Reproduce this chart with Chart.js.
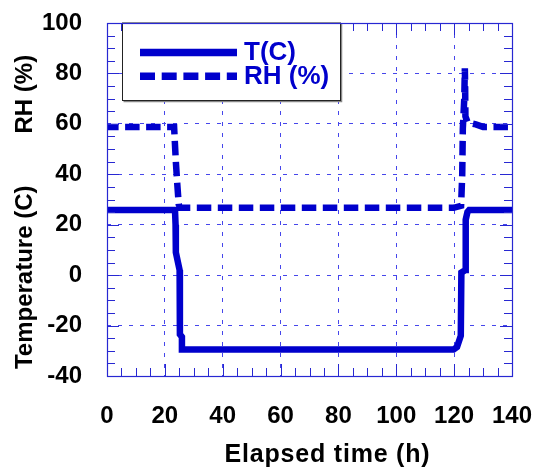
<!DOCTYPE html>
<html>
<head>
<meta charset="utf-8">
<title>Temperature and RH vs elapsed time</title>
<script src="https://cdn.jsdelivr.net/npm/chart.js@4.4.0/dist/chart.umd.min.js"></script>
<style>
  body { margin: 0; background: #fff; }
  canvas { display: block; }
</style>
</head>
<body>
<canvas id="chamberChart" width="538" height="468"></canvas>
<script>
// Chamber log: air temperature and relative humidity through the cold soak
const tTime   = [-1, 23.5, 23.7, 23.8, 25.1, 25.2, 25.9, 25.9, 119.8, 121.0, 122.3, 122.5, 123.9, 124.0, 124.6, 125.2, 140];
const tValue  = [25.8, 25.8, 20, 9, 2, -23.5, -24.5, -29.5, -29.5, -28.5, -24, 1, 2, 22, 25, 25.8, 25.8];
const rhTime  = [-1, 23.2, 23.4, 23.8, 24.3, 24.8, 25.3, 119.8, 122.4, 122.8, 123.0, 123.5, 123.7, 123.8, 123.9, 124.7, 127.5, 130, 140];
const rhValue = [58.8, 58.8, 54, 45, 36, 28, 26.7, 26.7, 27.5, 40, 58, 70, 82, 75, 63, 60.5, 59.8, 58.8, 58.8];
const xTicks  = [0, 20, 40, 60, 80, 100, 120, 140];
const yTicks  = [-40, -20, 0, 20, 40, 60, 80, 100];

const BLUE  = '#0000cc';
const FRAME = 'rgb(40,40,210)';
const GRID  = 'rgb(70,70,235)';
const FONT  = '"Liberation Sans", Arial, Helvetica, sans-serif';

const toPoints = (xs, ys) => xs.map((x, i) => ({ x: x, y: ys[i] }));

// keep the plot box fixed: no extra room for overhanging edge labels
const noOverhang = s => {
  s.paddingLeft = 0; s.paddingRight = 0;
  s.paddingTop = 0; s.paddingBottom = 0;
};

// minor ticks, boxed legend, frame and the axis titles
const framePlugin = {
  id: 'frame',
  afterDraw(chart) {
    const { ctx, chartArea: a, scales: { x, y } } = chart;
    ctx.save();

    // inward ticks every 5 units on all four sides
    ctx.strokeStyle = FRAME;
    ctx.lineWidth = 1;
    ctx.beginPath();
    for (let v = x.min; v <= x.max; v += 5) {
      const px = Math.round(x.getPixelForValue(v)) + 0.5;
      const len = v % 20 === 0 ? 12 : 8;
      ctx.moveTo(px, a.bottom); ctx.lineTo(px, a.bottom - len);
      ctx.moveTo(px, a.top);    ctx.lineTo(px, a.top + len);
    }
    for (let v = y.min; v <= y.max; v += 5) {
      const py = Math.round(y.getPixelForValue(v)) + 0.5;
      const len = v % 20 === 0 ? 12 : 8;
      ctx.moveTo(a.left, py);  ctx.lineTo(a.left + len, py);
      ctx.moveTo(a.right, py); ctx.lineTo(a.right - len, py);
    }
    ctx.stroke();

    // legend box with a drop shadow
    const box = { l: 122.5, t: a.top, r: 340.5, b: 100.5 };
    ctx.fillStyle = '#fff';
    ctx.fillRect(box.l, box.t, box.r - box.l, box.b - box.t);
    ctx.strokeStyle = '#888';
    ctx.lineWidth = 1.5;
    ctx.beginPath();
    ctx.moveTo(box.l + 1, box.b + 1); ctx.lineTo(box.r + 1, box.b + 1); ctx.lineTo(box.r + 1, box.t + 1);
    ctx.stroke();
    ctx.strokeStyle = '#222';
    ctx.lineWidth = 1;
    ctx.strokeRect(box.l, box.t, box.r - box.l, box.b - box.t);

    const rows = [52.5, 76.2];
    chart.data.datasets.forEach((ds, i) => {
      const ly = rows[i];
      ctx.strokeStyle = ds.borderColor;
      ctx.lineWidth = 7.5;
      ctx.lineCap = 'butt';
      ctx.setLineDash(ds.borderDash && ds.borderDash.length ? [15, 6.7] : []);
      ctx.beginPath();
      ctx.moveTo(140, ly); ctx.lineTo(237, ly);
      ctx.stroke();
      ctx.setLineDash([]);
      ctx.fillStyle = ds.borderColor;
      ctx.font = 'bold 26px ' + FONT;
      ctx.textAlign = 'left';
      ctx.textBaseline = 'alphabetic';
      ctx.fillText(ds.label, 244, ly + 7.5);
    });

    // plot frame
    ctx.strokeStyle = FRAME;
    ctx.lineWidth = 1.2;
    ctx.strokeRect(a.left + 0.5, a.top + 0.5, a.right - a.left, a.bottom - a.top);

    // axis titles
    ctx.fillStyle = '#000';
    ctx.font = 'bold 24px ' + FONT;
    ctx.textAlign = 'center';
    ctx.textBaseline = 'alphabetic';
    [['RH (%)', 94.2], ['Temperature (C)', 277.3]].forEach(([txt, cy]) => {
      ctx.save();
      ctx.translate(32, cy);
      ctx.rotate(-Math.PI / 2);
      ctx.fillText(txt, 0, 0);
      ctx.restore();
    });
    ctx.font = 'bold 25px ' + FONT;
    if ('letterSpacing' in ctx) ctx.letterSpacing = '0.8px';
    ctx.fillText('Elapsed time (h)', 327.5, 461.7);

    ctx.restore();
  }
};

new Chart(document.getElementById('chamberChart'), {
  type: 'line',
  data: {
    datasets: [
      {
        label: 'T(C)',
        data: toPoints(tTime, tValue),
        borderColor: BLUE,
        borderWidth: 6.5,
        borderDash: [],
        borderCapStyle: 'butt',
        borderJoinStyle: 'miter',
        pointRadius: 0,
        tension: 0,
        fill: false
      },
      {
        label: 'RH (%)',
        data: toPoints(rhTime, rhValue),
        borderColor: BLUE,
        borderWidth: 6.5,
        borderDash: [14.5, 6.5],
        borderCapStyle: 'butt',
        borderJoinStyle: 'miter',
        pointRadius: 0,
        tension: 0,
        fill: false
      }
    ]
  },
  options: {
    responsive: false,
    animation: false,
    devicePixelRatio: 1,
    events: [],
    layout: { padding: { top: 23, right: 26, left: 0, bottom: 0 } },
    plugins: {
      legend: { display: false },
      tooltip: { enabled: false }
    },
    scales: {
      x: {
        type: 'linear',
        min: 0,
        max: 140,
        afterBuildTicks: s => { s.ticks = xTicks.map(v => ({ value: v })); },
        afterFit: s => { s.height = 92; noOverhang(s); },
        ticks: {
          autoSkip: false,
          maxRotation: 0,
          padding: 26,
          color: '#000',
          font: { family: FONT, size: 24, weight: 'bold' }
        },
        grid: {
          drawTicks: false,
          lineWidth: 1,
          color: c => (c.tick && (c.tick.value === 0 || c.tick.value === 140)) ? 'rgba(0,0,0,0)' : GRID
        },
        border: { display: false, dash: [4, 7] }
      },
      y: {
        type: 'linear',
        min: -40,
        max: 100,
        afterBuildTicks: s => { s.ticks = yTicks.map(v => ({ value: v })); },
        afterFit: s => { s.width = 107; noOverhang(s); },
        ticks: {
          autoSkip: false,
          padding: 25,
          color: '#000',
          font: { family: FONT, size: 24, weight: 'bold' }
        },
        grid: {
          drawTicks: false,
          lineWidth: 1,
          color: c => (c.tick && (c.tick.value === -40 || c.tick.value === 100)) ? 'rgba(0,0,0,0)' : GRID
        },
        border: { display: false, dash: [4, 7] }
      }
    }
  },
  plugins: [framePlugin]
});
</script>
</body>
</html>
